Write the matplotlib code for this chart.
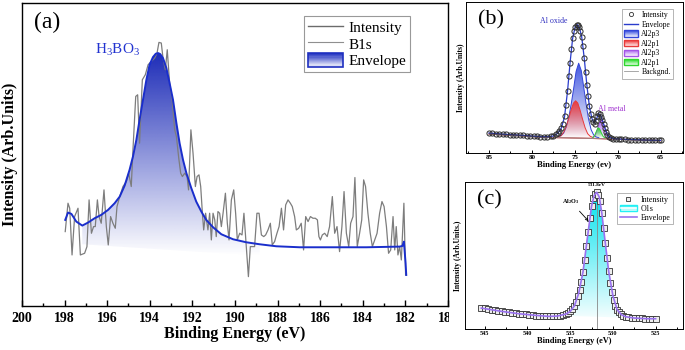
import numpy as np
import matplotlib
matplotlib.use("Agg")
import matplotlib.pyplot as plt
from matplotlib.patches import Polygon, Rectangle, Patch
from matplotlib.lines import Line2D
from matplotlib.legend_handler import HandlerBase
from matplotlib.colors import to_rgb
from matplotlib.ticker import MultipleLocator
from matplotlib.transforms import Bbox, TransformedBbox

plt.rcParams['font.family'] = ['Liberation Serif', 'DejaVu Serif']
plt.rcParams['mathtext.fontset'] = 'custom'
plt.rcParams['mathtext.rm'] = 'Liberation Serif'

# ---------------- panel (a): B1s ----------------
a_energy = [197.97, 197.84, 197.76, 197.65, 197.53, 197.37, 197.26, 197.06, 196.95, 196.85,
            196.74, 196.64, 196.56, 196.46, 196.38, 196.28, 196.15, 196.04, 195.95, 195.84,
            195.73, 195.62, 195.54, 195.41, 195.26, 195.10, 194.99, 194.87, 194.79, 194.66,
            194.57, 194.48, 194.35, 194.21, 194.08, 193.93, 193.77, 193.66, 193.57, 193.46,
            193.38, 193.27, 193.18, 193.07, 192.96, 192.83, 192.75, 192.64, 192.55, 192.47,
            192.36, 192.25, 192.18, 192.07, 191.97, 191.86, 191.78, 191.69, 191.61, 191.53,
            191.47, 191.38, 191.27, 191.19, 191.11, 191.03, 190.95, 190.88, 190.80, 190.72,
            190.64, 190.56, 190.45, 190.36, 190.28, 190.17, 190.06, 189.97, 189.89, 189.78,
            189.67, 189.58, 189.47, 189.37, 189.28, 189.19, 189.08, 188.97, 188.87, 188.76,
            188.65, 188.56, 188.45, 188.34, 188.25, 188.14, 188.03, 187.93, 187.82, 187.72,
            187.62, 187.51, 187.40, 187.31, 187.20, 187.12, 187.01, 186.89, 186.78, 186.68,
            186.57, 186.46, 186.34, 186.23, 186.13, 186.06, 185.99, 185.90, 185.79, 185.67,
            185.56, 185.43, 185.32, 185.21, 185.09, 184.98, 184.88, 184.77, 184.66, 184.57,
            184.46, 184.37, 184.26, 184.15, 184.05, 183.96, 183.87, 183.76, 183.65, 183.55,
            183.44, 183.33, 183.21, 183.10, 183.00, 182.89, 182.79, 182.69, 182.58, 182.50,
            182.43, 182.35, 182.27, 182.19, 182.07, 181.99]
a_intensity = [223, 308, 293, 153, 268, 293, 153, 158, 178, 318,
               218, 238, 238, 318, 268, 248, 348, 238, 183, 268,
               248, 233, 298, 328, 358, 373, 398, 358, 468, 628,
               633, 488, 678, 693, 723, 733, 743, 758, 790, 788,
               743, 708, 768, 668, 623, 528, 508, 443, 398, 388,
               398, 388, 348, 528, 458, 358, 388, 393, 358, 278,
               228, 278, 228, 278, 198, 278, 258, 208, 283, 278,
               238, 278, 338, 248, 198, 318, 348, 278, 198, 218,
               213, 278, 178, 88, 178, 178, 178, 278, 278, 213,
               208, 213, 228, 248, 183, 193, 218, 238, 293, 228,
               303, 318, 308, 298, 268, 228, 233, 248, 168, 268,
               253, 268, 263, 263, 258, 208, 198, 213, 218, 208,
               238, 328, 218, 238, 163, 238, 343, 218, 178, 248,
               268, 385, 178, 218, 258, 378, 358, 278, 218, 178,
               198, 218, 278, 313, 298, 238, 158, 168, 268, 168,
               238, 153, 178, 138, 308, 93]
a_env_energy = [197.97, 197.84, 197.68, 197.45, 197.17, 196.90, 196.59, 196.28, 195.96, 195.65,
                195.41, 195.18, 194.95, 194.79, 194.63, 194.48, 194.32, 194.16, 194.01, 193.85,
                193.72, 193.61, 193.51, 193.38, 193.22, 193.07, 192.91, 192.75, 192.60, 192.44,
                192.28, 192.05, 191.82, 191.58, 191.35, 191.03, 190.64, 190.09, 189.47, 188.84,
                188.06, 186.96, 185.40, 183.83, 182.27, 182.14, 182.07, 181.99, 181.96]
a_env = [258, 280, 276, 253, 241, 250, 263, 273, 288, 308,
         328, 361, 408, 448, 498, 558, 618, 678, 723, 746,
         756, 758, 755, 743, 713, 668, 618, 548, 488, 438,
         398, 353, 313, 283, 258, 236, 215, 200, 191, 185,
         179, 176, 176, 176, 178, 180, 193, 128, 93]
a_base_energy = [188.84, 197.17]
a_base = [150, 185]
a_ticks = [200, 198, 196, 194, 192, 190, 188, 186, 184, 182, 180]

# ---------------- panel (b): Al2p ----------------
b_energy = [85.0, 84.6, 84.2, 83.8, 83.4, 83.0, 82.6, 82.2, 81.8, 81.4,
            81.0, 80.6, 80.2, 79.8, 79.4, 79.0, 78.6, 78.2, 77.8, 77.5,
            77.2, 77.0, 76.8, 76.6, 76.4, 76.2, 76.0,
            75.85, 75.7, 75.55, 75.4, 75.25, 75.1, 74.95, 74.8, 74.65, 74.5,
            74.35, 74.2, 74.05, 73.9, 73.75, 73.6, 73.45, 73.3, 73.15, 73.0,
            72.85, 72.7, 72.55, 72.4, 72.25, 72.1, 71.95, 71.8, 71.65, 71.5,
            71.35, 71.2, 71.0, 70.8, 70.5, 70.2, 69.9, 69.6, 69.2, 68.8,
            68.4, 68.0, 67.6, 67.2, 66.8, 66.4, 66.0, 65.6, 65.2, 65.0]
b_intensity = [60, 59, 58, 57, 57, 56, 55, 55, 54, 53,
               53, 52, 51, 51, 50, 49, 49, 49, 50, 52,
               56, 60, 66, 74, 88, 110, 145,
               185, 230, 272, 312, 345, 368, 380, 386, 385, 378,
               366, 350, 322, 285, 245, 205, 170, 140, 117, 102,
               93, 88, 96, 110, 120, 118, 108, 98, 88, 75,
               63, 54, 48, 45, 43, 42, 42, 41, 41, 40,
               40, 40, 39, 39, 39, 38, 38, 38, 38, 38]
b_env_energy = [85, 83, 81, 79, 78, 77.5, 77, 76.6, 76.2, 75.85,
                75.55, 75.25, 74.95, 74.7, 74.45, 74.2, 73.9, 73.6, 73.3, 73.0,
                72.75, 72.5, 72.25, 72.0, 71.75, 71.5, 71.25, 71.0, 70.5, 69,
                67, 65]
b_env = [60, 56, 53, 49, 49, 51, 59, 73, 108, 185,
         272, 345, 380, 386, 375, 350, 285, 205, 140, 103,
         90, 100, 119, 114, 96, 76, 58, 48, 43, 41,
         39, 38]
b_bg_energy = [85, 82, 79, 77, 75, 73, 71, 68, 65]
b_bg = [57, 53, 48, 46, 45, 44, 42, 40, 37]
b_ox3_energy = [77.0, 76.6, 76.3, 76.0, 75.7, 75.4, 75.1, 74.85, 74.55, 74.25,
                74.0, 73.7, 73.4, 73.1, 72.8, 72.5, 72.2]
b_ox3 = [49, 52, 60, 78, 108, 150, 200, 245, 270, 248, 205, 150, 102, 70, 54, 48, 46]
b_ox1_energy = [77.0, 76.6, 76.3, 76.0, 75.7, 75.4, 75.15, 74.9, 74.65, 74.4,
                74.1, 73.8, 73.5, 73.2, 72.9]
b_ox1 = [48, 52, 62, 80, 105, 132, 150, 157, 150, 130, 102, 76, 58, 50, 47]
b_m3_energy = [72.9, 72.6, 72.35, 72.1, 71.9, 71.7, 71.5, 71.3, 71.05]
b_m3 = [46, 54, 72, 92, 100, 92, 74, 56, 46]
b_m1_energy = [72.9, 72.7, 72.5, 72.3, 72.1, 71.9, 71.7, 71.5]
b_m1 = [46, 52, 64, 76, 72, 60, 50, 45]
b_ticks = [85, 80, 75, 70, 65]

# ---------------- panel (c): O1s ----------------
c_energy = [545.4, 545.0, 544.6, 544.2, 543.8, 543.4, 543.0, 542.6, 542.2, 541.8,
            541.4, 541.0, 540.6, 540.2, 539.8, 539.4, 539.0, 538.6, 538.2, 537.8,
            537.4, 537.0, 536.6, 536.2, 535.8, 535.5, 535.25, 535.0, 534.75, 534.5,
            534.3, 534.1, 533.9, 533.7, 533.5, 533.3, 533.1, 532.9, 532.7, 532.5,
            532.3, 532.1, 531.9, 531.7, 531.5, 531.3, 531.1, 530.9, 530.7, 530.5,
            530.3, 530.1, 529.9, 529.7, 529.5, 529.3, 529.1, 528.8, 528.5, 528.2,
            527.8, 527.4, 527.0, 526.6, 526.2, 525.8, 525.4, 525.0]
c_intensity = [63, 62, 60, 58, 56, 55, 53, 51, 50, 48,
               47, 46, 45, 44, 42, 41, 40, 39, 39, 38,
               38, 38, 39, 40, 42, 45, 48, 53, 60, 70,
               82, 98, 118, 142, 172, 208, 250, 292, 335, 370,
               395, 408, 412, 405, 385, 350, 305, 260, 215, 175,
               140, 112, 88, 70, 58, 50, 44, 40, 37, 35,
               34, 33, 32, 32, 31, 31, 31, 31]
c_env_energy = [545.4, 543, 541, 539, 537.5, 536.5, 535.5, 535, 534.5, 534,
                533.5, 533, 532.5, 532.2, 531.9, 531.6, 531.3, 531, 530.5, 530,
                529.5, 529, 528.5, 527.5, 526, 525]
c_env = [63, 53, 46, 41, 38, 39, 45, 53, 70, 108,
         172, 272, 370, 402, 412, 398, 350, 283, 175, 100,
         58, 43, 37, 33, 31, 31]
c_o1s_energy = [535.8, 535.0, 534.5, 534.0, 533.5, 533.0, 532.5, 532.2, 531.9, 531.6,
                531.3, 531.0, 530.5, 530.0, 529.5, 529.0, 528.3]
c_o1s = [40, 50, 67, 105, 170, 270, 368, 400, 410, 396, 348, 281, 173, 98, 56, 41, 34]
c_peak_energy = 531.86
c_peak_top = 411
c_ticks = [545, 540, 535, 530, 525]


def gradient_fill(ax, xs, ys, color, y0, y1, alpha0=0.0, zorder=1):
    poly = Polygon(np.column_stack([xs, ys]), closed=True, facecolor='none', edgecolor='none')
    ax.add_patch(poly)
    img = np.zeros((200, 1, 4))
    img[:, 0, :3] = to_rgb(color)
    img[:, 0, 3] = np.linspace(alpha0, 1, 200)
    im = ax.imshow(img, extent=[max(xs), min(xs), y0, y1], origin='lower',
                   aspect='auto', zorder=zorder, interpolation='bilinear')
    im.set_clip_path(poly)


class GradHandler(HandlerBase):
    def __init__(self, top, edge, line=None, lw=1.0):
        super().__init__()
        self.top, self.edge, self.line, self.lw = top, edge, line, lw

    def create_artists(self, legend, orig_handle, xdescent, ydescent, width, height, fontsize, trans):
        x0, y0 = -xdescent, -ydescent
        rgb = to_rgb(self.top)
        n = 12
        arts = []
        for i in range(n):
            f = (i + 1) / n
            c = tuple(1 - f * (1 - v) for v in rgb)
            arts.append(Rectangle((x0, y0 + height * i / n), width, height / n,
                                  facecolor=c, edgecolor='none', transform=trans))
        arts.append(Rectangle((x0, y0), width, height, facecolor='none',
                              edgecolor=self.edge, lw=self.lw, transform=trans))
        if self.line:
            arts.append(Line2D([x0 + 1, x0 + width - 1], [y0 + height / 2] * 2,
                               color=self.line, lw=1.2, transform=trans))
        return arts


def style_axis(ax, ticks, major, minor, size, lw, pad):
    ax.set_yticks([])
    ax.set_xticks(ticks)
    ax.set_xticklabels([str(t) for t in ticks], fontweight='bold', fontsize=size)
    ax.xaxis.set_minor_locator(MultipleLocator(minor))
    ax.tick_params(axis='x', which='major', direction='in', length=major, width=lw, pad=pad)
    ax.tick_params(axis='x', which='minor', direction='in', length=major * 0.6, width=lw)
    for s in ax.spines.values():
        s.set_linewidth(lw)


fig = plt.figure(figsize=(6.85, 3.5), dpi=100)
ax_a = fig.add_axes([0.0321, 0.1257, 0.6219, 0.8657])
ax_b = fig.add_axes([0.680, 0.5629, 0.317, 0.4314])
ax_c = fig.add_axes([0.679, 0.06, 0.318, 0.42])

# ---- (a)
env_e = np.array(a_env_energy)
env_v = np.array(a_env)
m = (env_e <= a_base_energy[1]) & (env_e >= a_base_energy[0])
gradient_fill(ax_a, list(env_e[m]) + a_base_energy, list(env_v[m]) + a_base,
              '#1e2db8', a_base[0], max(a_env), zorder=1)
ax_a.plot(a_energy, a_intensity, color='#7d7d7d', lw=0.9, zorder=3)
ax_a.plot(a_env_energy, a_env, color='#1a2ecc', lw=1.4, zorder=4)
ax_a.set_xlim(200, 180)
ax_a.set_ylim(0, 908)
style_axis(ax_a, a_ticks, 4, 1, 10, 1.0, 4)
ax_a.set_xlabel('Binding Energy (eV)', fontsize=11.5, fontweight='bold', labelpad=1)
ax_a.set_ylabel('Intensity (Arb.Units)', fontsize=11.5, fontweight='bold', labelpad=3)
ax_a.text(0.059, 0.937, '(a)', transform=ax_a.transAxes, fontsize=17, ha='center', va='center')
ax_a.text(195.5, 768, r'H$_\mathregular{3}$BO$_\mathregular{3}$', color='#2233d0',
          fontsize=11, ha='center', va='center')

env_patch = Patch()
la = ax_a.legend([Line2D([], [], color='#6b6b6b', lw=1.0), Line2D([], [], color='#8f8f8f', lw=0.8), env_patch],
                 ['Intensity', 'B1s', 'Envelope'], loc='upper right', bbox_to_anchor=(0.911, 0.957),
                 fontsize=11, fancybox=False, edgecolor='#999999', framealpha=1, borderpad=0.25,
                 labelspacing=0.1, handlelength=2.3, handletextpad=0.35, handleheight=1.0,
                 borderaxespad=0, handler_map={env_patch: GradHandler('#1f30c0', '#1f30c0', lw=1.2)})
la.get_frame().set_linewidth(0.8)

# ---- (b)
gradient_fill(ax_b, b_ox3_energy, b_ox3, '#3f55e0', 44, max(b_ox3), zorder=1)
gradient_fill(ax_b, b_ox1_energy, b_ox1, '#ee3a3a', 44, max(b_ox1), zorder=1.1)
gradient_fill(ax_b, b_m3_energy, b_m3, '#a860f0', 44, max(b_m3), zorder=1.2)
gradient_fill(ax_b, b_m1_energy, b_m1, '#22dd22', 44, max(b_m1), zorder=1.3)
ax_b.plot(b_bg_energy, b_bg, color='#c03838', lw=0.9, zorder=2)
ax_b.plot(b_ox3_energy, b_ox3, color='#3345d8', lw=0.7, zorder=2)
ax_b.plot(b_ox1_energy, b_ox1, color='#e83a3a', lw=0.7, zorder=2)
ax_b.plot(b_m3_energy, b_m3, color='#a455e8', lw=0.7, zorder=2)
ax_b.plot(b_m1_energy, b_m1, color='#2ed82e', lw=0.7, zorder=2)
ax_b.plot(b_bg_energy, b_bg, color='#9a9a9a', lw=0.5, zorder=2.5)
ax_b.plot(b_env_energy, b_env, color='#2a3ccc', lw=0.9, zorder=3)
ax_b.plot(b_energy, b_intensity, 'o', ms=3.7, mfc='none', mec='#2a2a2a', mew=0.7, zorder=4)
ax_b.set_xlim(87.7, 62.4)
ax_b.set_ylim(0, 454)
style_axis(ax_b, b_ticks, 2.5, 2.5, 5, 0.7, 1.5)
ax_b.set_xlabel('Binding Energy (ev)', fontsize=6.2, fontweight='bold', labelpad=0.5)
ax_b.set_ylabel('Intensity (Arb.Units)', fontsize=5.5, fontweight='bold', labelpad=0.5)
ax_b.text(0.115, 0.88, '(b)', transform=ax_b.transAxes, fontsize=16, ha='center', va='center')
ax_b.text(77.5, 397, 'Al oxide', color='#3030c0', fontsize=5.7, ha='center', va='center')
ax_b.text(70.7, 133, 'Al metal', color='#a030d0', fontsize=5.7, ha='center', va='center')

pb = [Patch() for _ in range(4)]
lb = ax_b.legend([Line2D([], [], ls='none', marker='o', ms=3, mfc='none', mec='#333333', mew=0.6),
                  Line2D([], [], color='#2a3ccc', lw=1.0)] + pb + [Line2D([], [], color='#9a9a9a', lw=0.6)],
                 ['Intensity', 'Envelope', 'Al2p3', 'Al2p1', 'Al2p3', 'Al2p1', 'Backgnd.'],
                 loc='upper right', bbox_to_anchor=(0.954, 0.954), fontsize=5.5, fancybox=False,
                 edgecolor='#999999', framealpha=1, borderpad=0.3, labelspacing=0.2,
                 handlelength=1.8, handletextpad=0.5, handleheight=0.9, borderaxespad=0,
                 handler_map={pb[0]: GradHandler('#3f55e0', '#3345d8'),
                              pb[1]: GradHandler('#ee3a3a', '#e83a3a'),
                              pb[2]: GradHandler('#a860f0', '#a455e8'),
                              pb[3]: GradHandler('#22dd22', '#2ed82e')})
lb.get_frame().set_linewidth(0.5)

# ---- (c)
gradient_fill(ax_c, c_o1s_energy, c_o1s, '#00e2ee', 32, max(c_o1s), alpha0=0.05, zorder=1)
ax_c.plot([c_peak_energy, c_peak_energy], [0, c_peak_top], color='#888888', lw=0.6, zorder=2)
ax_c.plot(c_energy, c_intensity, 's', ms=3.7, mfc='#eeeeee', mec='#333333', mew=0.6, zorder=3)
ax_c.plot(c_env_energy, c_env, color='#9a72f0', lw=1.2, zorder=4)
ax_c.set_xlim(547.3, 521.8)
ax_c.set_ylim(0, 443)
style_axis(ax_c, c_ticks, 2.5, 2.5, 4.5, 0.7, 1.5)
ax_c.set_xlabel('Binding Energy (eV)', fontsize=6, fontweight='bold', labelpad=0.5)
ax_c.set_ylabel('Intensity (Arb.Units.)', fontsize=5.5, fontweight='bold', labelpad=2)
ax_c.text(0.11, 0.878, '(c)', transform=ax_c.transAxes, fontsize=16, ha='center', va='center')
ax_c.text(531.9, 433, '531.8eV', fontsize=3.8, fontweight='bold', ha='center', va='center')
ax_c.annotate(r'Al$_\mathregular{2}$O$_\mathregular{3}$', xy=(532.85, 325), xytext=(534.9, 383),
              fontsize=4.5, fontweight='bold', ha='center', va='center',
              arrowprops=dict(arrowstyle='->', lw=0.6, color='black', shrinkA=2, shrinkB=0))

pc = Patch()
lc = ax_c.legend([Line2D([], [], ls='none', marker='s', ms=3, mfc='#eeeeee', mec='#333333', mew=0.6),
                  pc, Line2D([], [], color='#9a72f0', lw=1.2)],
                 ['Intensity', 'O1s', 'Envelope'], loc='upper right', bbox_to_anchor=(0.955, 0.923),
                 fontsize=5.7, fancybox=False, edgecolor='#999999', framealpha=1, borderpad=0.3,
                 labelspacing=0.15, handlelength=2.2, handletextpad=0.5, handleheight=0.9,
                 borderaxespad=0, handler_map={pc: GradHandler('#22f0f4', '#22f0f4', line='white')})
lc.get_frame().set_linewidth(0.5)

# the last tick label of (a) is cut by the side panels in the original
last = ax_a.xaxis.get_major_ticks()[-1].label1
last.set_clip_box(TransformedBbox(Bbox.from_extents(0, 0, 449 / 685, 1), fig.transFigure))
last.set_clip_on(True)

fig.savefig('out.png', dpi=100)
